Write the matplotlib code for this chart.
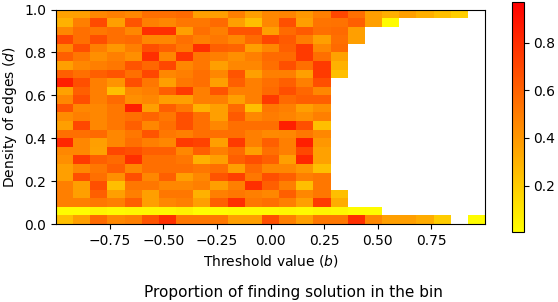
import numpy as np
import matplotlib
matplotlib.use("Agg")
import matplotlib.pyplot as plt

# bin edges of the threshold (b) and edge density (d)
b_edges = np.linspace(-1.0, 1.0, 26)
d_edges = np.linspace(0.0, 1.0, 26)

nan = np.nan
# proportion of finding a solution, rows from d=0 (bottom) to d=1 (top)
row00 = [0.25, 0.37, 0.57, 0.46, 0.49, 0.65, 0.79, 0.52, 0.52, 0.52, 0.37, 0.37, 0.67, 0.49, 0.37, 0.52, 0.52, 0.79, 0.46, 0.37, 0.37, 0.32, 0.20, nan, 0.02]
row01 = [0.02, 0.02, 0.05, 0.03, 0.04, 0.04, 0.04, 0.06, 0.02, 0.02, 0.03, 0.03, 0.03, 0.04, 0.03, 0.05, 0.04, 0.02, 0.02, nan, nan, nan, nan, nan, nan]
row02 = [0.49, 0.49, 0.52, 0.49, 0.61, 0.37, 0.46, 0.49, 0.37, 0.61, 0.79, 0.52, 0.55, 0.49, 0.37, 0.75, 0.32, nan, nan, nan, nan, nan, nan, nan, nan]
row03 = [0.49, 0.37, 0.61, 0.37, 0.49, 0.37, 0.52, 0.52, 0.30, 0.49, 0.52, 0.49, 0.46, 0.61, 0.46, 0.52, 0.25, nan, nan, nan, nan, nan, nan, nan, nan]
row04 = [0.49, 0.37, 0.67, 0.25, 0.52, 0.52, 0.46, 0.46, 0.49, 0.37, 0.49, 0.79, 0.61, 0.49, 0.25, 0.52, nan, nan, nan, nan, nan, nan, nan, nan, nan]
row05 = [0.37, 0.67, 0.55, 0.43, 0.67, 0.46, 0.61, 0.37, 0.46, 0.65, 0.73, 0.52, 0.67, 0.61, 0.49, 0.52, nan, nan, nan, nan, nan, nan, nan, nan, nan]
row06 = [0.37, 0.46, 0.52, 0.61, 0.46, 0.55, 0.55, 0.55, 0.52, 0.55, 0.37, 0.57, 0.46, 0.46, 0.40, 0.25, nan, nan, nan, nan, nan, nan, nan, nan, nan]
row07 = [0.43, 0.75, 0.61, 0.57, 0.79, 0.55, 0.55, 0.52, 0.30, 0.37, 0.61, 0.67, 0.61, 0.37, 0.82, 0.36, nan, nan, nan, nan, nan, nan, nan, nan, nan]
row08 = [0.46, 0.46, 0.36, 0.70, 0.67, 0.61, 0.61, 0.46, 0.61, 0.49, 0.57, 0.37, 0.55, 0.49, 0.70, 0.36, nan, nan, nan, nan, nan, nan, nan, nan, nan]
row09 = [0.82, 0.46, 0.37, 0.46, 0.55, 0.49, 0.46, 0.75, 0.72, 0.37, 0.75, 0.49, 0.61, 0.49, 0.85, 0.40, nan, nan, nan, nan, nan, nan, nan, nan, nan]
row10 = [0.55, 0.55, 0.57, 0.46, 0.52, 0.65, 0.52, 0.49, 0.55, 0.55, 0.55, 0.49, 0.45, 0.46, 0.52, 0.46, nan, nan, nan, nan, nan, nan, nan, nan, nan]
row11 = [0.37, 0.70, 0.46, 0.52, 0.61, 0.46, 0.55, 0.67, 0.55, 0.46, 0.55, 0.55, 0.55, 0.85, 0.67, 0.25, nan, nan, nan, nan, nan, nan, nan, nan, nan]
row12 = [0.44, 0.49, 0.46, 0.52, 0.55, 0.59, 0.52, 0.67, 0.55, 0.37, 0.63, 0.46, 0.50, 0.47, 0.43, 0.49, nan, nan, nan, nan, nan, nan, nan, nan, nan]
row13 = [0.65, 0.46, 0.46, 0.52, 0.85, 0.37, 0.61, 0.52, 0.30, 0.37, 0.57, 0.25, 0.52, 0.49, 0.37, 0.43, nan, nan, nan, nan, nan, nan, nan, nan, nan]
row14 = [0.46, 0.67, 0.49, 0.57, 0.43, 0.46, 0.37, 0.37, 0.49, 0.49, 0.37, 0.49, 0.75, 0.57, 0.61, 0.61, nan, nan, nan, nan, nan, nan, nan, nan, nan]
row15 = [0.36, 0.61, 0.49, 0.25, 0.46, 0.49, 0.61, 0.75, 0.49, 0.65, 0.49, 0.49, 0.57, 0.67, 0.58, 0.46, nan, nan, nan, nan, nan, nan, nan, nan, nan]
row16 = [0.85, 0.67, 0.49, 0.41, 0.67, 0.52, 0.37, 0.52, 0.55, 0.37, 0.61, 0.49, 0.55, 0.61, 0.49, 0.67, nan, nan, nan, nan, nan, nan, nan, nan, nan]
row17 = [0.61, 0.55, 0.61, 0.65, 0.55, 0.70, 0.46, 0.49, 0.55, 0.46, 0.65, 0.37, 0.49, 0.49, 0.37, 0.75, 0.25, nan, nan, nan, nan, nan, nan, nan, nan]
row18 = [0.37, 0.46, 0.49, 0.52, 0.65, 0.58, 0.70, 0.46, 0.52, 0.37, 0.46, 0.46, 0.55, 0.67, 0.55, 0.75, 0.30, nan, nan, nan, nan, nan, nan, nan, nan]
row19 = [0.61, 0.52, 0.43, 0.49, 0.43, 0.79, 0.46, 0.77, 0.52, 0.49, 0.43, 0.49, 0.57, 0.57, 0.75, 0.55, 0.36, nan, nan, nan, nan, nan, nan, nan, nan]
row20 = [0.46, 0.67, 0.49, 0.40, 0.49, 0.67, 0.61, 0.52, 0.79, 0.61, 0.59, 0.37, 0.46, 0.61, 0.75, 0.46, 0.57, nan, nan, nan, nan, nan, nan, nan, nan]
row21 = [0.70, 0.55, 0.67, 0.55, 0.57, 0.46, 0.46, 0.55, 0.49, 0.52, 0.46, 0.57, 0.70, 0.63, 0.50, 0.37, 0.55, 0.37, nan, nan, nan, nan, nan, nan, nan]
row22 = [0.46, 0.55, 0.52, 0.55, 0.46, 0.79, 0.79, 0.37, 0.55, 0.49, 0.65, 0.65, 0.37, 0.57, 0.63, 0.55, 0.57, 0.37, nan, nan, nan, nan, nan, nan, nan]
row23 = [0.30, 0.49, 0.69, 0.37, 0.65, 0.49, 0.46, 0.52, 0.52, 0.57, 0.37, 0.25, 0.46, 0.67, 0.37, 0.53, 0.54, 0.61, 0.37, 0.02, nan, nan, nan, nan, nan]
row24 = [0.36, 0.37, 0.46, 0.49, 0.46, 0.55, 0.55, 0.57, 0.37, 0.37, 0.49, 0.37, 0.46, 0.47, 0.40, 0.49, 0.70, 0.55, 0.37, 0.31, 0.37, 0.31, 0.25, 0.19, nan]

proportion = np.array([row00, row01, row02, row03, row04, row05, row06, row07, row08,
                       row09, row10, row11, row12, row13, row14, row15, row16, row17,
                       row18, row19, row20, row21, row22, row23, row24])
proportion = np.ma.masked_invalid(proportion)

fig = plt.figure(figsize=(5.58, 3.02), dpi=100)
ax = fig.add_axes([56 / 558, 1 - 224 / 302, 429 / 558, 214.5 / 302])
mesh = ax.pcolormesh(b_edges, d_edges, proportion, cmap="autumn_r", vmin=0.005, vmax=0.97)
ax.set_xlim(-1, 1)
ax.set_ylim(0, 1)
ax.set_xticks([-0.75, -0.5, -0.25, 0.0, 0.25, 0.5, 0.75])
ax.set_xlabel("Threshold value ($b$)")
ax.set_ylabel("Density of edges ($d$)")

cax = fig.add_axes([512 / 558, 1 - 232 / 302, 11.5 / 558, 230 / 302])
cbar = fig.colorbar(mesh, cax=cax)
cbar.set_ticks([0.2, 0.4, 0.6, 0.8])

fig.text(0.526, 0.018, "Proportion of finding solution in the bin", ha="center", fontsize=11)

fig.savefig("out.png", dpi=100)
